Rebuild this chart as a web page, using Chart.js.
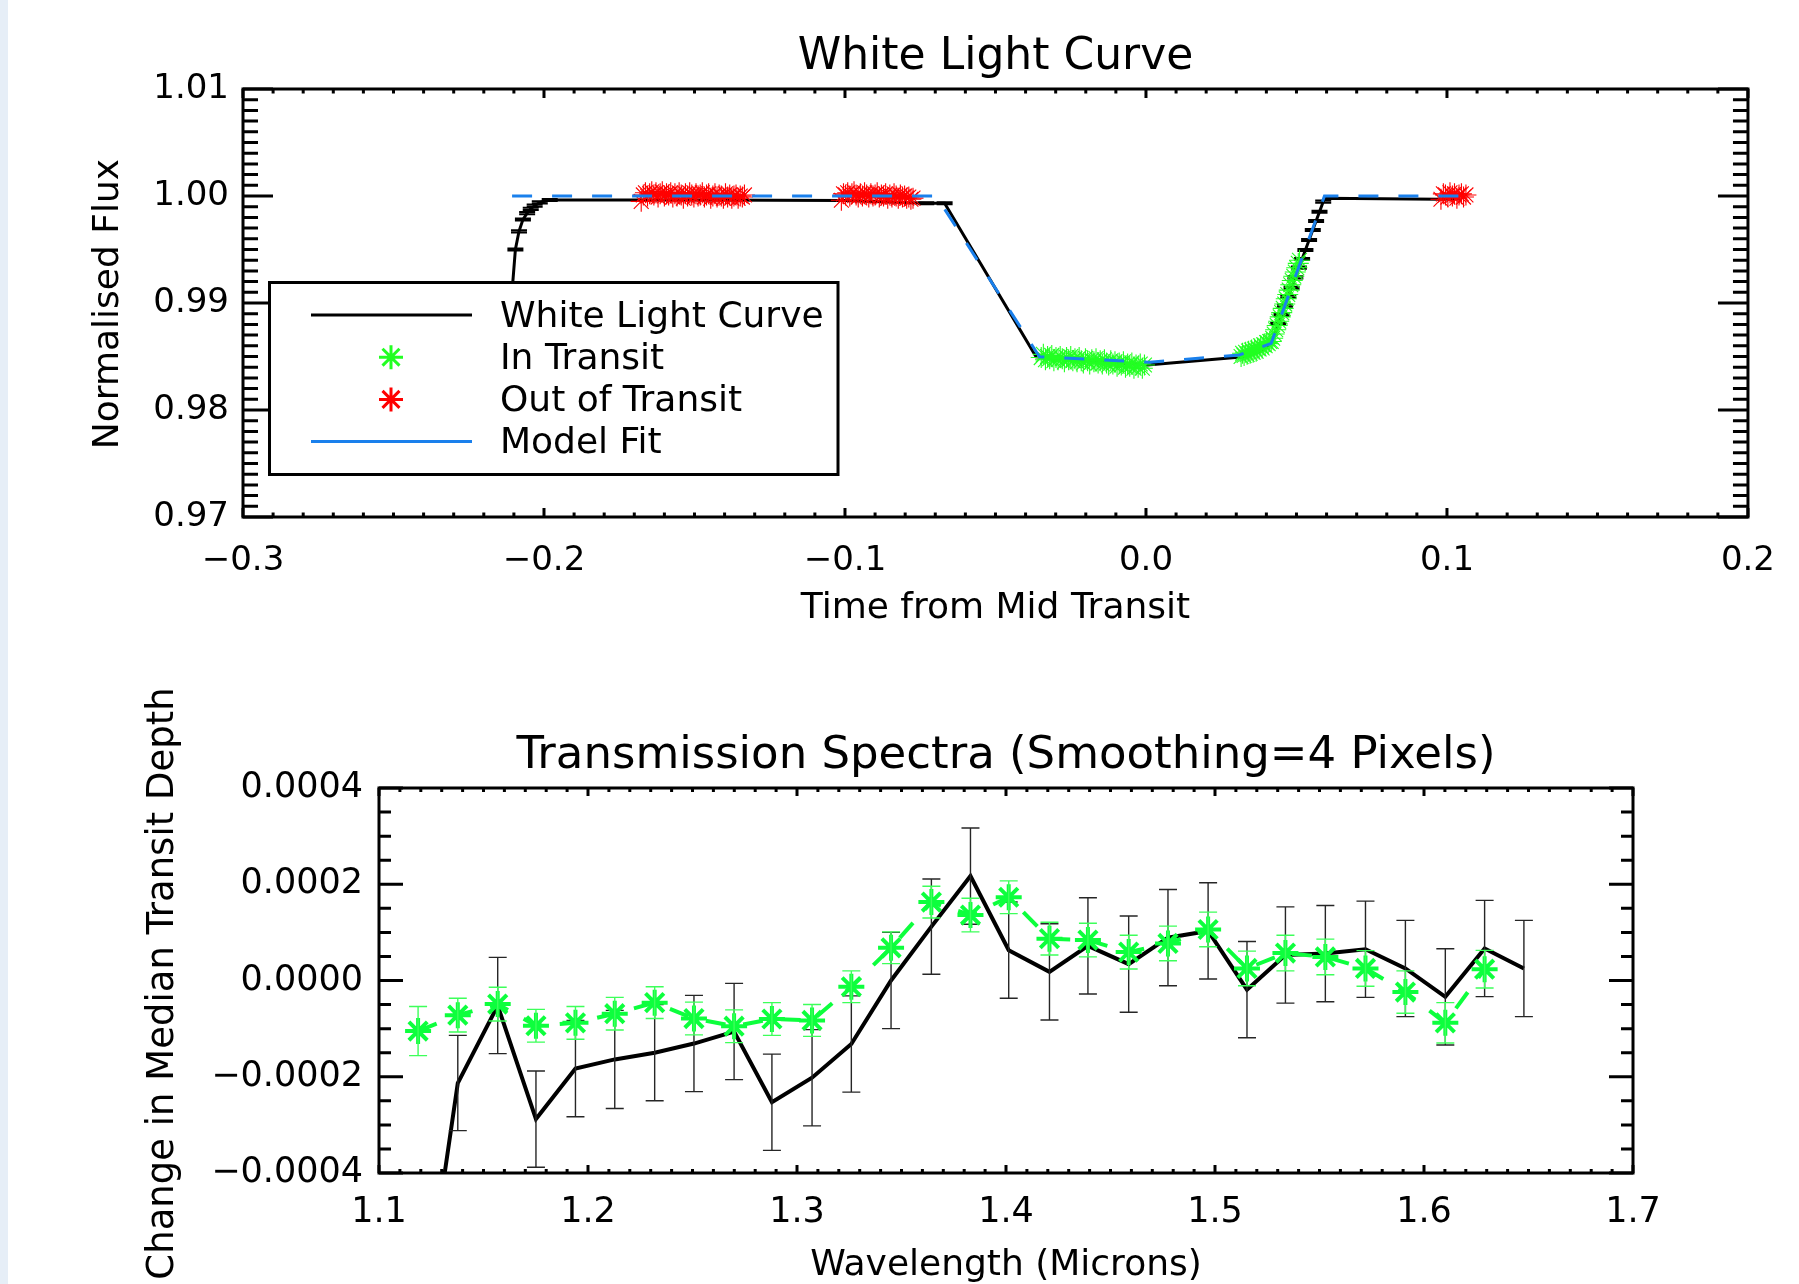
<!DOCTYPE html>
<html><head><meta charset="utf-8">
<script src="https://cdn.jsdelivr.net/npm/chart.js@4.4.1/dist/chart.umd.min.js"></script>
<style>
html,body{margin:0;padding:0;background:#fff;width:1799px;height:1284px;overflow:hidden;}
#strip{position:absolute;left:0;top:0;width:8px;height:1284px;background:#e6eef7;}
#c1{position:absolute;left:0;top:0;}
#c2{position:absolute;left:0;top:640px;}
</style></head><body>
<div id="strip"></div>
<canvas id="c1" width="1799" height="640"></canvas>
<canvas id="c2" width="1799" height="644"></canvas>
<script>
// ---------------- Top panel: White Light Curve ----------------
const topXTicks = [-0.3, -0.2, -0.1, 0.0, 0.1, 0.2];
const topXLabels = ['\u22120.3', '\u22120.2', '\u22120.1', '0.0', '0.1', '0.2'];
const topYTicks = [0.97, 0.98, 0.99, 1.00, 1.01];
const topYLabels = ['0.97', '0.98', '0.99', '1.00', '1.01'];

const wlcTime = [-0.2106,-0.2095,-0.2083,-0.2070,-0.2056,-0.2044,-0.2031,-0.2014,-0.1981,
  -0.1500,-0.1000,-0.0730,-0.0669,
  -0.0365,-0.0180,0.0005,
  0.0316,0.0380,0.0416,
  0.04393,0.04504,0.04617,0.04727,0.04837,0.04963,0.05081,0.05187,0.05297,0.05419,0.05542,0.05652,0.05765,0.05888,0.0593,
  0.0975,0.1045];
const wlcFlux = [0.9911,0.9950,0.9967,0.9978,0.9984,0.9988,0.9991,0.9994,0.99963,
  0.99962,0.99958,0.99932,0.99932,
  0.98498,0.98460,0.98421,
  0.98495,0.98550,0.98623,
  0.98804,0.98888,0.98975,0.99059,0.99143,0.99240,0.99330,0.99411,0.99495,0.99589,0.99682,0.99766,0.99853,0.99947,0.99978,
  0.99969,0.99975];
const wlcErr = [0.0001,0.0001,0.0001,0.0001,0.0001,0.0001,0.0001,0.0001,0.0001,
  null,null,0.0001,0.0001,
  null,null,null,
  null,null,null,
  0.0001,0.0001,0.0001,0.0001,0.0001,0.0001,0.0001,0.0001,0.0001,0.0001,0.0001,0.0001,0.0001,0.0001,null,
  null,null];

const outTime = [
  -0.1677,-0.1670,-0.1663,-0.1656,-0.1649,-0.1642,-0.1635,-0.1628,-0.1621,-0.1614,
  -0.1607,-0.1600,-0.1593,-0.1586,-0.1579,-0.1572,-0.1565,-0.1558,-0.1551,-0.1544,
  -0.1537,-0.1530,-0.1523,-0.1516,-0.1509,-0.1502,-0.1495,-0.1488,-0.1481,-0.1474,
  -0.1467,-0.1460,-0.1453,-0.1446,-0.1439,-0.1432,-0.1425,-0.1418,-0.1411,-0.1404,
  -0.1397,-0.1390,-0.1383,-0.1376,-0.1369,-0.1362,-0.1355,-0.1348,-0.1341,-0.1334,
  -0.1012,-0.1005,-0.0998,-0.0991,-0.0984,-0.0977,-0.0970,-0.0963,-0.0956,-0.0949,
  -0.0942,-0.0935,-0.0928,-0.0921,-0.0914,-0.0907,-0.0900,-0.0893,-0.0886,-0.0879,
  -0.0872,-0.0865,-0.0858,-0.0851,-0.0844,-0.0837,-0.0830,-0.0823,-0.0816,-0.0809,
  -0.0802,-0.0795,-0.0788,-0.0781,-0.0774,
  0.0980,0.0988,0.0995,0.1003,0.1010,0.1018,0.1025,0.1033,0.1040,0.1048,0.1055,0.1063];
const outFlux = [
  0.9995,1.0001,1.0003,1.0000,1.0002,1.0004,1.0001,1.0003,0.9999,1.0002,
  1.0004,1.0000,1.0002,1.0001,1.0003,0.9999,1.0002,1.0000,1.0003,1.0001,
  0.9998,1.0002,1.0000,1.0003,1.0001,0.9999,1.0002,1.0000,1.0001,1.0003,
  0.9999,1.0001,1.0002,0.9998,1.0000,1.0002,0.9999,1.0001,1.0000,0.9998,
  1.0002,0.9999,1.0001,0.9998,1.0000,1.0001,0.9998,1.0000,0.9999,1.0001,
  0.9996,1.0002,1.0001,1.0003,1.0000,1.0002,1.0004,1.0001,0.9999,1.0002,
  1.0000,1.0003,1.0001,0.9999,1.0002,1.0000,1.0001,1.0003,0.9999,1.0001,
  1.0000,1.0002,0.9998,1.0001,0.9999,1.0002,1.0000,0.9998,1.0001,0.9999,
  1.0000,0.9998,0.9999,0.9997,0.9998,
  0.9997,1.0002,1.0001,0.9999,1.0003,1.0000,1.0002,0.9998,1.0001,1.0002,0.9999,1.0001];

const inTime = [
  -0.0348,-0.0341,-0.0334,-0.0327,-0.0320,-0.0313,-0.0306,-0.0299,-0.0292,-0.0285,
  -0.0278,-0.0271,-0.0264,-0.0257,-0.0250,-0.0243,-0.0236,-0.0229,-0.0222,-0.0215,
  -0.0208,-0.0201,-0.0194,-0.0187,-0.0180,-0.0173,-0.0166,-0.0159,-0.0152,-0.0145,
  -0.0138,-0.0131,-0.0124,-0.0117,-0.0110,-0.0103,-0.0096,-0.0089,-0.0082,-0.0075,
  -0.0068,-0.0061,-0.0054,-0.0047,-0.0040,-0.0033,-0.0026,-0.0019,-0.0012,-0.0005,
  0.0316,0.0321,0.0326,0.0331,0.0336,0.0341,0.0346,0.0351,0.0356,0.0361,
  0.0366,0.0371,0.0376,0.0381,0.0386,0.0391,0.0396,0.0401,0.0406,0.0411,
  0.0416,0.0421,0.0426,0.0431,0.0436,0.0441,0.0446,0.0451,0.0456,0.0461,
  0.0466,0.0471,0.0476,0.0481,0.0486,0.0491,0.0496,0.0501,0.0506,0.0510];
const inFlux = [
  0.9849,0.9852,0.9847,0.9850,0.9848,0.9851,0.9846,0.9849,0.9847,0.9850,
  0.9848,0.9845,0.9849,0.9847,0.9850,0.9846,0.9848,0.9845,0.9849,0.9846,
  0.9844,0.9848,0.9846,0.9843,0.9847,0.9845,0.9848,0.9844,0.9846,0.9843,
  0.9847,0.9844,0.9842,0.9846,0.9843,0.9845,0.9841,0.9844,0.9842,0.9845,
  0.9840,0.9843,0.9841,0.9844,0.9839,0.9842,0.9840,0.9843,0.9839,0.9842,
  0.9850,0.9853,0.9851,0.9854,0.9852,0.9855,0.9853,0.9856,0.9854,0.9857,
  0.9855,0.9858,0.9857,0.9860,0.9858,0.9861,0.9860,0.9863,0.9862,0.9864,
  0.9864,0.9867,0.9871,0.9875,0.9879,0.9883,0.9887,0.9891,0.9895,0.9899,
  0.9904,0.9908,0.9912,0.9917,0.9921,0.9925,0.9929,0.9933,0.9937,0.9940];

const modelTime = [-0.2106,-0.0697,-0.0354,0.0012,0.0310,0.0416,0.0593,0.1063];
const modelFlux = [1.0000,1.0000,0.98498,0.98446,0.98514,0.98623,1.0000,1.0000];

// ---------------- Bottom panel: Transmission Spectra ----------------
const botXTicks = [1.1, 1.2, 1.3, 1.4, 1.5, 1.6, 1.7];
const botXLabels = ['1.1', '1.2', '1.3', '1.4', '1.5', '1.6', '1.7'];
const botYTicks = [-0.0004, -0.0002, 0.0, 0.0002, 0.0004];
const botYLabels = ['\u22120.0004', '\u22120.0002', '0.0000', '0.0002', '0.0004'];

const waveGreen = [1.1187,1.1377,1.1568,1.1751,1.1940,1.2128,1.2319,1.2507,1.2699,1.2880,1.3072,1.3260,1.3450,1.3643,1.3830,1.4013,1.4208,1.4392,1.4587,1.4775,1.4967,1.5153,1.5337,1.5528,1.5720,1.5911,1.6102,1.6290];
const depthGreen = [-1.05e-4,-7.2e-5,-4.9e-5,-9.4e-5,-8.8e-5,-6.9e-5,-4.6e-5,-7.9e-5,-9.5e-5,-8.0e-5,-8.3e-5,-1.3e-5,6.8e-5,1.63e-4,1.36e-4,1.73e-4,8.7e-5,8.4e-5,5.9e-5,7.7e-5,1.06e-4,2.5e-5,5.7e-5,4.9e-5,2.5e-5,-2.4e-5,-8.8e-5,2.35e-5];
const errGreen = [5.1e-5,3.5e-5,3.5e-5,3.4e-5,3.4e-5,3.4e-5,3.3e-5,3.4e-5,3.4e-5,3.4e-5,3.3e-5,3.3e-5,3.3e-5,3.3e-5,3.5e-5,3.4e-5,3.4e-5,3.5e-5,3.5e-5,3.6e-5,3.6e-5,3.6e-5,3.7e-5,3.7e-5,3.7e-5,4.4e-5,4.2e-5,3.9e-5];

const waveBlack = [1.1187,1.1377,1.1568,1.1751,1.1940,1.2128,1.2319,1.2507,1.2699,1.2880,1.3072,1.3260,1.3450,1.3643,1.3830,1.4013,1.4208,1.4392,1.4587,1.4775,1.4967,1.5153,1.5337,1.5528,1.5720,1.5911,1.6102,1.6290,1.6478];
const depthBlack = [-7.8e-4,-2.13e-4,-5.2e-5,-2.88e-4,-1.83e-4,-1.64e-4,-1.50e-4,-1.31e-4,-1.06e-4,-2.53e-4,-2.02e-4,-1.32e-4,0.0,1.12e-4,2.17e-4,6.3e-5,1.8e-5,7.2e-5,3.4e-5,8.9e-5,1.03e-4,-1.9e-5,5.3e-5,5.6e-5,6.5e-5,2.5e-5,-3.4e-5,6.65e-5,2.5e-5];
const errBlack = [1.0e-4,9.9e-5,1.0e-4,1.0e-4,1.0e-4,1.02e-4,1.0e-4,1.0e-4,1.0e-4,1.0e-4,1.0e-4,1.0e-4,1.0e-4,9.9e-5,1.0e-4,1.0e-4,1.0e-4,1.0e-4,1.0e-4,1.0e-4,1.0e-4,1.0e-4,1.0e-4,1.0e-4,1.0e-4,1.0e-4,1.0e-4,1.0e-4,1.0e-4];

// ---------------- helpers ----------------
const FONT = "'DejaVu Sans', sans-serif";
const GREEN = '#0dff3d';
const pts = (xs, ys) => xs.map((x, i) => ({x: x, y: ys[i]}));

function starPath(ctx, x, y, r) {
  const d = r * Math.SQRT1_2;
  ctx.moveTo(x - r, y); ctx.lineTo(x + r, y);
  ctx.moveTo(x, y - r); ctx.lineTo(x, y + r);
  ctx.moveTo(x - d, y - d); ctx.lineTo(x + d, y + d);
  ctx.moveTo(x - d, y + d); ctx.lineTo(x + d, y - d);
}

const idlFrame = {
  id: 'idlFrame',
  afterDatasetDraw(chart, args) {
    const ds = chart.data.datasets[args.index];
    if (!ds.errorBars) return;
    const eb = ds.errorBars, xs = chart.scales.x, ys = chart.scales.y;
    const ctx = chart.ctx, a = chart.chartArea;
    ctx.save();
    ctx.beginPath(); ctx.rect(a.left, a.top, a.right - a.left, a.bottom - a.top); ctx.clip();
    ctx.strokeStyle = eb.color; ctx.lineWidth = eb.width;
    ds.data.forEach((p, i) => {
      const e = eb.values[i];
      if (e == null) return;
      const px = xs.getPixelForValue(p.x);
      const y1 = ys.getPixelForValue(p.y + e), y2 = ys.getPixelForValue(p.y - e);
      const hw = eb.cap / 2;
      ctx.beginPath();
      ctx.moveTo(px, y1); ctx.lineTo(px, y2);
      ctx.moveTo(px - hw, y1); ctx.lineTo(px + hw, y1);
      ctx.moveTo(px - hw, y2); ctx.lineTo(px + hw, y2);
      ctx.stroke();
    });
    ctx.restore();
  },
  afterDraw(chart, args, o) {
    const ctx = chart.ctx, a = chart.chartArea, xs = chart.scales.x, ys = chart.scales.y;
    ctx.save();
    ctx.strokeStyle = '#000';
    ctx.lineWidth = 3;
    ctx.lineCap = 'butt';
    ctx.beginPath();
    function ticksX(step, len) {
      const n = Math.round((xs.max - xs.min) / step);
      for (let i = 0; i <= n; i++) {
        const px = xs.getPixelForValue(xs.min + i * step);
        ctx.moveTo(px, a.bottom); ctx.lineTo(px, a.bottom - len);
        ctx.moveTo(px, a.top); ctx.lineTo(px, a.top + len);
      }
    }
    function ticksY(step, len) {
      const n = Math.round((ys.max - ys.min) / step);
      for (let i = 0; i <= n; i++) {
        const py = ys.getPixelForValue(ys.min + i * step);
        ctx.moveTo(a.left, py); ctx.lineTo(a.left + len, py);
        ctx.moveTo(a.right, py); ctx.lineTo(a.right - len, py);
      }
    }
    ticksX(o.xMinor, o.xMinorLen); ticksX(o.xMajor, o.xMajorLen);
    ticksY(o.yMinor, o.yMinorLen); ticksY(o.yMajor, o.yMajorLen);
    ctx.stroke();
    ctx.lineWidth = 3;
    ctx.strokeRect(a.left, a.top, a.right - a.left, a.bottom - a.top);
    // texts
    const cx = (a.left + a.right) / 2;
    ctx.fillStyle = '#000';
    ctx.textBaseline = 'alphabetic';
    ctx.textAlign = 'center';
    ctx.font = o.titleFont; ctx.fillText(o.title, cx, o.titleY);
    ctx.font = o.axisFont; ctx.fillText(o.xTitle, cx, o.xTitleY);
    ctx.save();
    ctx.font = o.yAxisFont || o.axisFont;
    ctx.translate(o.yTitleX, (a.top + a.bottom) / 2 + o.yTitleShift);
    ctx.rotate(-Math.PI / 2);
    ctx.fillText(o.yTitle, 0, 0);
    ctx.restore();
    // legend
    if (o.legend) {
      const L = o.legend;
      ctx.lineWidth = 3;
      ctx.strokeStyle = '#000';
      ctx.fillStyle = '#fff';
      ctx.fillRect(L.box[0], L.box[1], L.box[2] - L.box[0], L.box[3] - L.box[1]);
      ctx.strokeRect(L.box[0], L.box[1], L.box[2] - L.box[0], L.box[3] - L.box[1]);
      ctx.font = L.font; ctx.textAlign = 'left'; ctx.fillStyle = '#000';
      L.items.forEach((it, k) => {
        const ds = chart.data.datasets[it.ds];
        const base = L.firstBaseline + k * L.rowStep;
        const sy = base - L.sampleOffset;
        ctx.beginPath();
        ctx.strokeStyle = ds.borderColor;
        ctx.lineWidth = 3;
        if (it.kind === 'line') { ctx.moveTo(L.lineX1, sy); ctx.lineTo(L.lineX2, sy); }
        else { starPath(ctx, L.starX, sy, L.starR); }
        ctx.stroke();
        ctx.fillText(ds.label, L.textX, base);
      });
    }
    ctx.restore();
  }
};

function axis(ticksArr, labels, size, padding, fixed, isX, mn, mx) {
  return {
    type: 'linear', min: mn, max: mx,
    grid: {display: false, drawTicks: false, tickLength: 0},
    border: {display: false},
    ticks: {
      color: '#000', padding: padding, autoSkip: false, maxRotation: 0, minRotation: 0,
      font: {family: FONT, size: size, lineHeight: 1.2},
      callback: (v, i) => labels[i]
    },
    afterBuildTicks: s => { s.ticks = ticksArr.map(v => ({value: v})); },
    afterFit: s => { if (isX) s.height = fixed; else s.width = fixed; }
  };
}

// ---------------- Chart 1 ----------------
new Chart(document.getElementById('c1'), {
  type: 'line',
  data: {
    datasets: [
      {label: 'Model Fit', data: pts(modelTime, modelFlux), borderColor: '#1a80ec', borderWidth: 3,
       borderDash: [20, 20], pointRadius: 0, fill: false, tension: 0},
      {label: 'Out of Transit', data: pts(outTime, outFlux), showLine: false, pointStyle: 'star',
       pointRadius: 10.5, pointBorderWidth: 1.1, borderColor: '#ff0000', pointBorderColor: '#ff0000', backgroundColor: '#ff0000'},
      {label: 'In Transit', data: pts(inTime, inFlux), showLine: false, pointStyle: 'star',
       pointRadius: 10.5, pointBorderWidth: 1.1, borderColor: '#22ff22', pointBorderColor: '#22ff22', backgroundColor: '#22ff22'},
      {label: 'White Light Curve', data: pts(wlcTime, wlcFlux), borderColor: '#000', borderWidth: 3,
       pointRadius: 0, fill: false, tension: 0,
       errorBars: {values: wlcErr, color: '#000', width: 2, cap: 16}}
    ]
  },
  options: {
    responsive: false, animation: false, devicePixelRatio: 1, events: [],
    layout: {padding: {left: 0, right: 50, top: 89, bottom: 0}},
    plugins: {
      legend: {display: false}, tooltip: {enabled: false},
      idlFrame: {
        xMajor: 0.1, xMinor: 0.01, xMajorLen: 9, xMinorLen: 4.5,
        yMajor: 0.01, yMinor: 0.001, yMajorLen: 30, yMinorLen: 15,
        title: 'White Light Curve', titleY: 69, titleFont: '44px ' + FONT,
        xTitle: 'Time from Mid Transit', xTitleY: 618, axisFont: '36px ' + FONT,
        yTitle: 'Normalised Flux', yTitleX: 118, yTitleShift: 1,
        legend: {
          box: [269.5, 282.5, 838, 474.5], font: '36px ' + FONT,
          firstBaseline: 326.5, rowStep: 42.2, sampleOffset: 11.5,
          lineX1: 311, lineX2: 472, starX: 391, starR: 12, textX: 500,
          items: [{ds: 3, kind: 'line'}, {ds: 2, kind: 'star'}, {ds: 1, kind: 'star'}, {ds: 0, kind: 'line'}]
        }
      }
    },
    scales: {
      x: axis(topXTicks, topXLabels, 34, 24, 123, true, -0.3, 0.2),
      y: axis(topYTicks, topYLabels, 34, 14, 243, false, 0.97, 1.01)
    }
  },
  plugins: [idlFrame]
});

// ---------------- Chart 2 ----------------
new Chart(document.getElementById('c2'), {
  type: 'line',
  data: {
    datasets: [
      {label: 'Smoothed spectrum', data: pts(waveGreen, depthGreen), borderColor: GREEN, borderWidth: 4,
       borderDash: [20, 18], pointStyle: 'star', pointRadius: 13, pointBorderWidth: 4,
       pointBorderColor: GREEN, backgroundColor: GREEN, fill: false, tension: 0,
       errorBars: {values: errGreen, color: '#3dff5a', width: 1.4, cap: 18}},
      {label: 'Spectrum', data: pts(waveBlack, depthBlack), borderColor: '#000', borderWidth: 4,
       pointRadius: 0, fill: false, tension: 0,
       errorBars: {values: errBlack, color: '#262626', width: 1.4, cap: 18}}
    ]
  },
  options: {
    responsive: false, animation: false, devicePixelRatio: 1, events: [],
    layout: {padding: {left: 0, right: 166, top: 148, bottom: 0}},
    plugins: {
      legend: {display: false}, tooltip: {enabled: false},
      idlFrame: {
        xMajor: 0.1, xMinor: 0.01, xMajorLen: 8, xMinorLen: 4,
        yMajor: 0.0002, yMinor: 0.00005, yMajorLen: 24, yMinorLen: 12,
        title: 'Transmission Spectra (Smoothing=4 Pixels)', titleY: 127.6, titleFont: '45px ' + FONT,
        xTitle: 'Wavelength (Microns)', xTitleY: 635, axisFont: '36px ' + FONT, yAxisFont: '37px ' + FONT,
        yTitle: 'Change in Median Transit Depth', yTitleX: 173, yTitleShift: 3
      }
    },
    scales: {
      x: axis(botXTicks, botXLabels, 35, 19, 111, true, 1.1, 1.7),
      y: axis(botYTicks, botYLabels, 35, 16, 379, false, -0.0004, 0.0004)
    }
  },
  plugins: [idlFrame]
});
</script>
</body></html>
